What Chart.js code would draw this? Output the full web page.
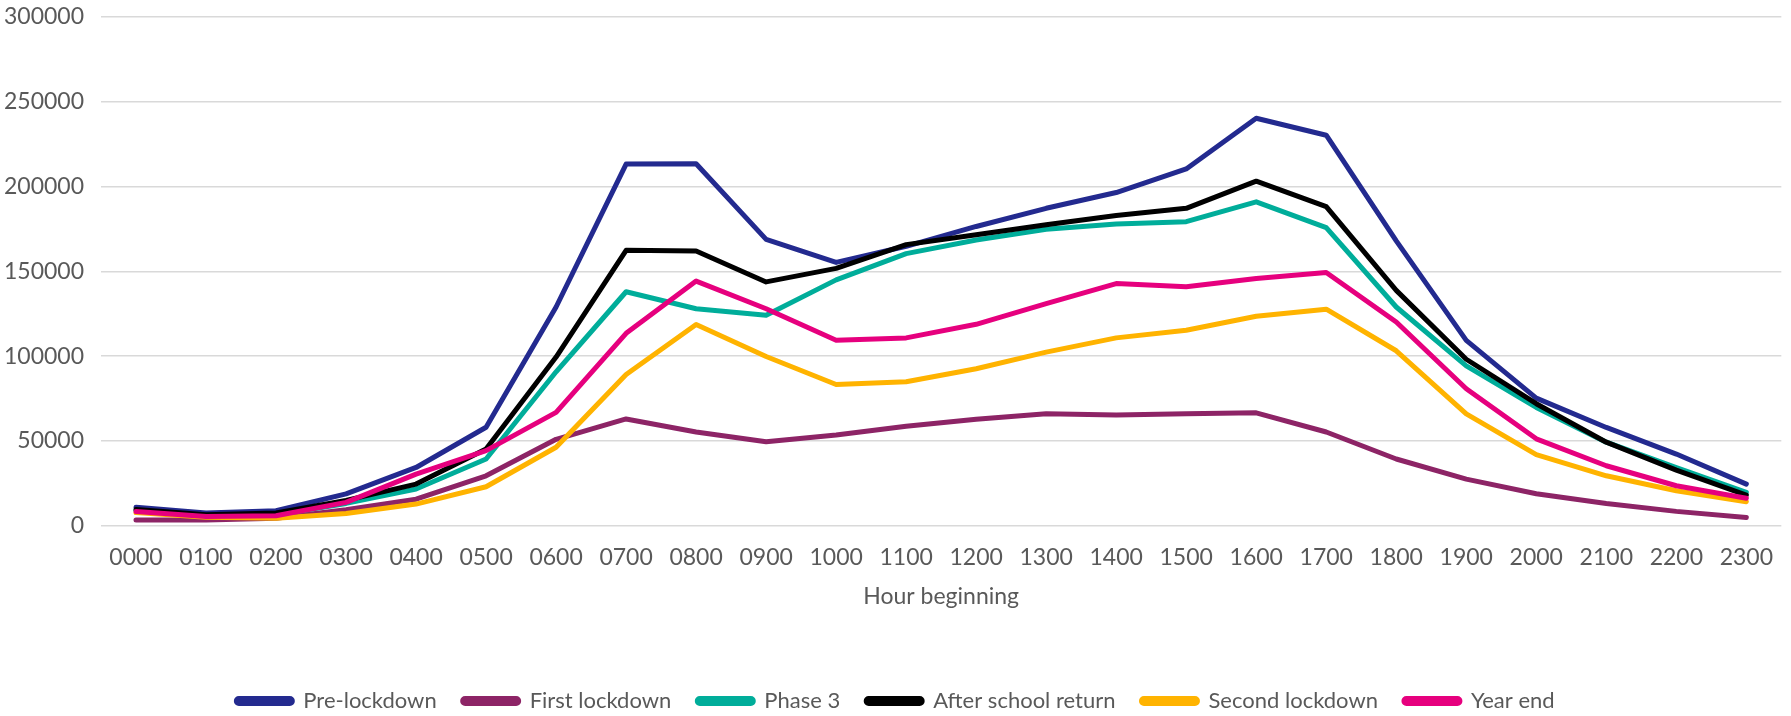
<!DOCTYPE html>
<html lang="en">
  <head>
    <meta charset="UTF-8" />
    <title>Journeys by hour beginning</title>
    <script src="https://cdn.jsdelivr.net/npm/chart.js"></script>
    <style>
      body { margin: 0; background: #fff; }
    </style>
  </head>
  <body>
    <canvas id="hourChart" width="1791" height="716"></canvas>

    <script>
      // Hour labels along the x axis
      const hours = ['0000', '0100', '0200', '0300', '0400', '0500', '0600', '0700', '0800', '0900', '1000', '1100',
                     '1200', '1300', '1400', '1500', '1600', '1700', '1800', '1900', '2000', '2100', '2200', '2300'];

      // One series per period
      const preLockdown = [10900, 7500, 8900, 18800, 34400, 58100, 129000, 213300, 213500, 168900, 155300, 164800,
                           176500, 187200, 196500, 210400, 240300, 230300, 168000, 109300, 75300, 58000, 42300, 24600];
      const firstLockdown = [3400, 3400, 4500, 9500, 15700, 29500, 51000, 63000, 55300, 49600, 53600, 58700,
                             62800, 66000, 65400, 66000, 66600, 55300, 39400, 27500, 18900, 13200, 8500, 4900];
      const phase3 = [9000, 6000, 6500, 13200, 21700, 39400, 90800, 138000, 128000, 124200, 145000, 160500,
                      168500, 174800, 178000, 179300, 191000, 175800, 129000, 94300, 69800, 49300, 34300, 19700];
      const afterSchoolReturn = [9600, 6500, 7500, 15000, 24600, 45300, 99500, 162400, 162000, 143800, 151800, 165800,
                                 171600, 177500, 183000, 187200, 203200, 188200, 138800, 98200, 72000, 49300, 32800, 18100];
      const secondLockdown = [7800, 5000, 4500, 7300, 12800, 23000, 46300, 89200, 118700, 99800, 83300, 84900,
                              92600, 102400, 110800, 115300, 123600, 127700, 103200, 66000, 42000, 29500, 20700, 14200];
      const yearEnd = [8500, 5500, 5900, 13800, 30500, 44300, 66900, 113500, 144300, 128000, 109400, 110800,
                       118800, 131000, 142800, 140900, 145800, 149400, 120200, 80800, 51300, 35400, 23600, 16200];

      const seriesNames = ['Pre-lockdown', 'First lockdown', 'Phase 3', 'After school return', 'Second lockdown', 'Year end'];
      const seriesData = [preLockdown, firstLockdown, phase3, afterSchoolReturn, secondLockdown, yearEnd];
      const seriesColors = ['#232a8f', '#8d2466', '#00ad9a', '#000000', '#ffb300', '#e6007e'];

      const textColor = '#595959';
      const gridColor = '#d9d9d9';
      const baseFont = { family: 'Lato', size: 23 };

      const datasets = seriesNames.map((name, i) => ({
        label: name,
        data: seriesData[i],
        borderColor: seriesColors[i],
        backgroundColor: seriesColors[i],
        borderWidth: 5,
        borderJoinStyle: 'round',
        borderCapStyle: 'round',
        pointRadius: 0,
        tension: 0,
        // later periods sit on top of earlier ones
        order: seriesNames.length - 1 - i
      }));

      const ctx = document.getElementById('hourChart').getContext('2d');
      new Chart(ctx, {
        type: 'line',
        data: { labels: hours, datasets: datasets },
        options: {
          responsive: false,
          animation: false,
          layout: { padding: { top: 0, right: 0, bottom: -6, left: 0 } },
          plugins: {
            tooltip: { enabled: false },
            legend: {
              position: 'bottom',
              labels: {
                color: textColor,
                font: { family: 'Lato', size: 22 },
                boxWidth: 56,
                boxHeight: 5,
                useBorderRadius: true,
                borderRadius: 2.5,
                padding: 26,
                sort: (a, b) => a.datasetIndex - b.datasetIndex
              }
            }
          },
          scales: {
            x: {
              offset: true,
              grid: { display: false, drawTicks: false, offset: true },
              border: { display: false },
              ticks: { color: textColor, font: baseFont, padding: 18, maxRotation: 0, autoSkip: false },
              title: {
                display: true,
                text: 'Hour beginning',
                color: textColor,
                font: baseFont,
                padding: { top: -7, bottom: 54 }
              }
            },
            y: {
              min: 0,
              max: 300000,
              afterFit: (scale) => {
                scale.width = 101;
                scale.paddingTop = 17;
                scale.paddingBottom = 0;
              },
              grid: { color: gridColor, lineWidth: 1.5, drawTicks: false },
              border: { display: false },
              ticks: {
                stepSize: 50000,
                color: textColor,
                font: baseFont,
                padding: 17,
                callback: (v) => String(v)
              }
            }
          }
        }
      });
    </script>
  </body>
</html>
